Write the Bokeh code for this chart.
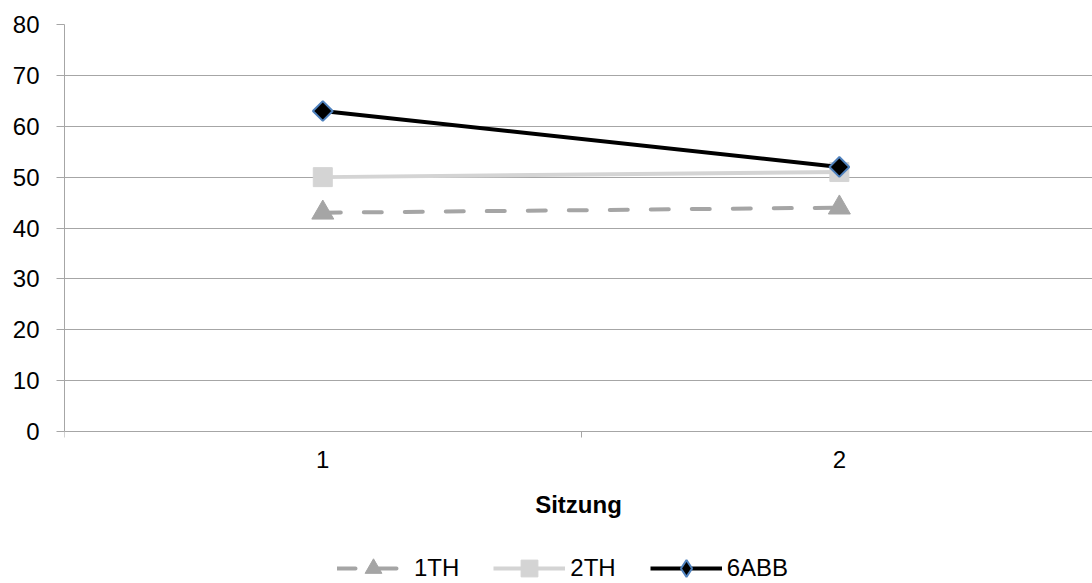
import math
from bokeh.plotting import figure
from bokeh.models import FixedTicker, Legend, LegendItem, Range1d
from bokeh.embed import file_html
from bokeh.resources import INLINE

# ---- data ----
sessions = [1, 2]
th1 = [43, 44]
th2 = [50, 51]
abb6 = [63, 52]
y_ticks = [0, 10, 20, 30, 40, 50, 60, 70, 80]
x_bounds = [0.5, 1.5, 2.5]
series_names = ["1TH", "2TH", "6ABB"]

FONT = "Liberation Sans"
GRID = "#a6a6a6"

# frame spans the lower area too, so the legend can sit inside it
W, H = 1092, 583
TOP, LEFT = 24, 64
AXIS_PX = 407            # pixel height of the 0..80 value span
frame_h = H - TOP
y_min = 80 - 80 * frame_h / AXIS_PX

p = figure(width=W, height=H, output_backend="svg", toolbar_location=None,
           title=None, x_range=Range1d(0.5, 2.49), y_range=Range1d(y_min, 80),
           min_border_left=LEFT, min_border_right=0, min_border_top=TOP,
           min_border_bottom=0)
p.outline_line_color = None
p.background_fill_color = "white"
p.border_fill_color = "white"

p.xgrid.visible = False
p.ygrid.ticker = FixedTicker(ticks=y_ticks)
p.ygrid.grid_line_color = GRID
p.ygrid.grid_line_width = 1

# y axis
yax = p.yaxis[0]
yax.ticker = FixedTicker(ticks=y_ticks, minor_ticks=[])
yax.bounds = (0, 80)
yax.axis_line_color = GRID
yax.major_tick_line_color = GRID
yax.major_tick_out = 8
yax.major_tick_in = 0
yax.minor_tick_line_color = None
yax.major_label_text_font = FONT
yax.major_label_text_font_size = "24px"
yax.major_label_text_color = "black"
yax.major_label_standoff = 17

# x axis, drawn at value 0
xax = p.xaxis[0]
xax.fixed_location = 0
xax.ticker = FixedTicker(ticks=sessions, minor_ticks=x_bounds)
xax.axis_line_color = GRID
xax.major_tick_line_color = None
xax.major_tick_out = 0
xax.major_tick_in = 0
xax.minor_tick_line_color = GRID
xax.minor_tick_out = 6
xax.minor_tick_in = 0
xax.major_label_text_font = FONT
xax.major_label_text_font_size = "24px"
xax.major_label_text_color = "black"
xax.major_label_standoff = 13
xax.axis_label = "Sitzung"
xax.axis_label_text_font = FONT
xax.axis_label_text_font_size = "24px"
xax.axis_label_text_font_style = "bold"
xax.axis_label_text_color = "black"
xax.axis_label_standoff = 20

# series 1TH
l1 = p.line(sessions, th1, line_color="#a5a5a5", line_width=4,
            line_dash="18 23", line_cap="round")
m1 = p.scatter(sessions, th1, marker="triangle", size=22,
               fill_color="#a5a5a5", line_color="#a5a5a5")
# series 2TH
l2 = p.line(sessions, th2, line_color="#d4d4d4", line_width=4)
m2 = p.scatter(sessions, th2, marker="square", size=19,
               fill_color="#d4d4d4", line_color="#d4d4d4")
# series 6ABB
l3 = p.line(sessions, abb6, line_color="black", line_width=4)
m3d = p.scatter(sessions, abb6, marker="diamond", size=18,
                fill_color="black", line_color="#4f81bd", line_width=2)
m3 = p.scatter(sessions, abb6, marker="square", angle=math.pi / 4, size=14,
               fill_color="black", line_color="#4f81bd", line_width=2)

legend = Legend(items=[LegendItem(label=series_names[0], renderers=[l1, m1]),
                       LegendItem(label=series_names[1], renderers=[l2, m2]),
                       LegendItem(label=series_names[2], renderers=[l3, m3d])],
                orientation="horizontal", location=(273, -6),
                glyph_width=72, glyph_height=42, label_standoff=5, spacing=34,
                padding=0, margin=0, border_line_color=None,
                background_fill_alpha=0,
                label_text_font=FONT, label_text_font_size="24px",
                label_text_color="black")
p.add_layout(legend)

open("out.html", "w").write(file_html(p, INLINE))
